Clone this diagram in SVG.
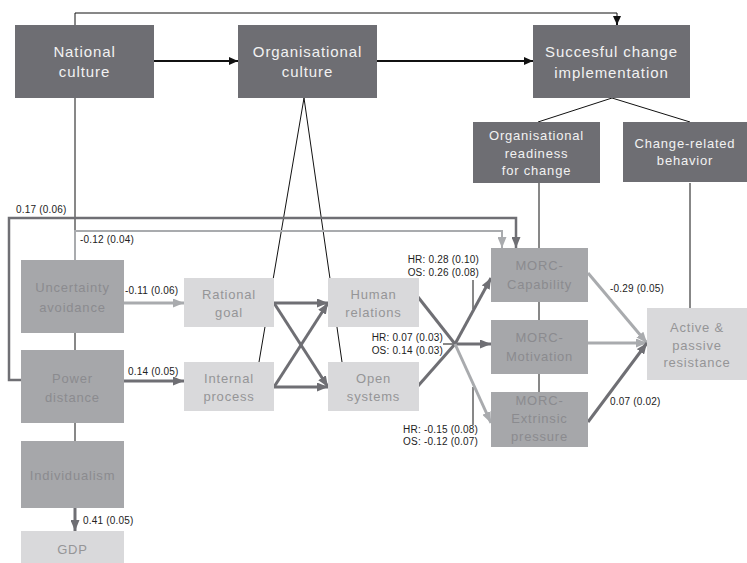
<svg xmlns="http://www.w3.org/2000/svg" width="747" height="563" viewBox="0 0 747 563">
  <style>
    .dark { fill: #6e6e73; }
    .mid { fill: #a6a7aa; }
    .light { fill: #d9d9db; }
    .t { font-family: "Liberation Sans", Arial, sans-serif; text-anchor: middle; }
    .tbig { font-size: 15px; letter-spacing: 0.9px; fill: #f2f2f2; }
    .tsm { font-size: 13px; letter-spacing: 0.8px; fill: #f2f2f2; }
    .tmid { font-size: 13px; letter-spacing: 0.8px; fill: #8b8b8f; }
    .tlight { font-size: 13px; letter-spacing: 0.8px; fill: #959597; }
    .lbl { font-family: "Liberation Sans", Arial, sans-serif; font-size: 10px; letter-spacing: 0.2px; fill: #222; }
    .thin { stroke: #111; stroke-width: 1; fill: none; }
    .blk { stroke: #111; stroke-width: 2; fill: none; marker-end: url(#ahBlack); }
    .dk { stroke: #6f6f74; stroke-width: 3; fill: none; }
    .lt { stroke: #a9abae; stroke-width: 3; fill: none; }
    .dka { marker-end: url(#ahDark); }
    .lta { marker-end: url(#ahLight); }
  </style>
  <defs>
    <marker id="ahBlack" markerUnits="userSpaceOnUse" markerWidth="9" markerHeight="8" refX="9" refY="4" orient="auto">
      <path d="M0,0 L9,4 L0,8 z" fill="#111"/>
    </marker>
    <marker id="ahDark" markerUnits="userSpaceOnUse" markerWidth="11" markerHeight="9" refX="11" refY="4.5" orient="auto">
      <path d="M0,0 L11,4.5 L0,9 z" fill="#6f6f74"/>
    </marker>
    <marker id="ahLight" markerUnits="userSpaceOnUse" markerWidth="11" markerHeight="9" refX="11" refY="4.5" orient="auto">
      <path d="M0,0 L11,4.5 L0,9 z" fill="#a9abae"/>
    </marker>
  </defs>

  <rect width="747" height="563" fill="#ffffff"/>

  <g id="connectors">
    <!-- thin black structure lines (behind the boxes) -->
    <line class="thin" x1="75" y1="13" x2="75" y2="441"/>
    <path class="thin" d="M75,13 H617 V18" />
    <line class="blk" x1="617" y1="17" x2="617" y2="25"/>
    <line class="thin" x1="304" y1="98" x2="259" y2="362"/>
    <line class="thin" x1="304" y1="98" x2="342" y2="362"/>
    <line class="thin" x1="612" y1="98" x2="538" y2="122"/>
    <line class="thin" x1="612" y1="98" x2="690" y2="122"/>
    <line class="thin" x1="539" y1="183" x2="539" y2="392"/>
    <line class="thin" x1="690" y1="183" x2="690" y2="308"/>
    <line class="thin" x1="473" y1="280" x2="473" y2="309"/>
    <line class="thin" x1="443" y1="344" x2="455" y2="344"/>
    <line class="thin" x1="473" y1="387" x2="473" y2="425"/>

    <!-- black arrows between the culture levels -->
    <line class="blk" x1="154" y1="61" x2="238" y2="61"/>
    <line class="blk" x1="377" y1="61" x2="533" y2="61"/>

    <!-- long paths to MORC-Capability -->
    <path class="dk dka" style="stroke-width:2.5" d="M21,380 H9 V218 H516 V248"/>
    <path class="lt lta" style="stroke-width:2" d="M75,260 V231 H502 V248"/>

    <!-- national culture dimensions to organisational culture -->
    <line class="lt lta" x1="124" y1="303" x2="184" y2="303"/>
    <line class="dk dka" x1="124" y1="381" x2="184" y2="381"/>

    <!-- cross links between culture types -->
    <line class="dk dka" x1="274" y1="303" x2="328" y2="303"/>
    <line class="dk dka" x1="274" y1="303" x2="328" y2="387"/>
    <line class="dk dka" x1="274" y1="387" x2="328" y2="387"/>
    <line class="dk dka" x1="274" y1="387" x2="328" y2="303"/>

    <!-- human relations / open systems to MORC -->
    <line class="dk" x1="418" y1="297" x2="455" y2="344"/>
    <line class="dk" x1="418" y1="386" x2="455" y2="344"/>
    <line class="dk dka" x1="455" y1="344" x2="491" y2="278"/>
    <line class="dk dka" x1="455" y1="344" x2="491" y2="344"/>
    <line class="lt lta" x1="455" y1="344" x2="491" y2="423"/>

    <!-- MORC to resistance -->
    <line class="lt lta" x1="588" y1="273" x2="647" y2="343"/>
    <line class="lt lta" x1="588" y1="343" x2="647" y2="343"/>
    <line class="dk dka" x1="588" y1="422" x2="647" y2="343"/>

    <!-- individualism to GDP -->
    <line class="dk dka" x1="75" y1="508" x2="75" y2="531"/>

    <!-- path coefficients -->
    <text class="lbl" x="16" y="213">0.17 (0.06)</text>
    <text class="lbl" x="80" y="243">-0.12 (0.04)</text>
    <text class="lbl" x="125" y="294">-0.11 (0.06)</text>
    <text class="lbl" x="128" y="375">0.14 (0.05)</text>
    <text class="lbl" x="479" y="263" text-anchor="end">HR: 0.28 (0.10)</text>
    <text class="lbl" x="479" y="276" text-anchor="end">OS: 0.26 (0.08)</text>
    <text class="lbl" x="443" y="341" text-anchor="end">HR: 0.07 (0.03)</text>
    <text class="lbl" x="443" y="354" text-anchor="end">OS: 0.14 (0.03)</text>
    <text class="lbl" x="478" y="433" text-anchor="end">HR: -0.15 (0.08)</text>
    <text class="lbl" x="478" y="445" text-anchor="end">OS: -0.12 (0.07)</text>
    <text class="lbl" x="610" y="292">-0.29 (0.05)</text>
    <text class="lbl" x="610" y="405">0.07 (0.02)</text>
    <text class="lbl" x="83" y="524">0.41 (0.05)</text>
  </g>

  <g id="national-culture">
    <rect class="dark" x="15" y="25" width="139" height="73"/>
    <text class="t tbig" x="84.5" y="57">National</text>
    <text class="t tbig" x="84.5" y="77">culture</text>
  </g>
  <g id="organisational-culture">
    <rect class="dark" x="238" y="25" width="139" height="73"/>
    <text class="t tbig" x="307.5" y="57">Organisational</text>
    <text class="t tbig" x="307.5" y="77">culture</text>
  </g>
  <g id="successful-change">
    <rect class="dark" x="533" y="25" width="157" height="73"/>
    <text class="t tbig" x="611.5" y="57">Succesful change</text>
    <text class="t tbig" x="611.5" y="78">implementation</text>
  </g>
  <g id="readiness">
    <rect class="dark" x="473" y="122" width="127" height="61"/>
    <text class="t tsm" x="536.5" y="140">Organisational</text>
    <text class="t tsm" x="536.5" y="158">readiness</text>
    <text class="t tsm" x="536.5" y="175">for change</text>
  </g>
  <g id="change-behavior">
    <rect class="dark" x="623" y="122" width="124" height="60"/>
    <text class="t tsm" x="685" y="148">Change-related</text>
    <text class="t tsm" x="685" y="165">behavior</text>
  </g>

  <g id="uncertainty-avoidance">
    <rect class="mid" x="21" y="260" width="103" height="73"/>
    <text class="t tmid" x="72.5" y="292">Uncertainty</text>
    <text class="t tmid" x="72.5" y="312">avoidance</text>
  </g>
  <g id="power-distance">
    <rect class="mid" x="21" y="350" width="103" height="73"/>
    <text class="t tmid" x="72.5" y="383">Power</text>
    <text class="t tmid" x="72.5" y="402">distance</text>
  </g>
  <g id="individualism">
    <rect class="mid" x="21" y="441" width="103" height="67"/>
    <text class="t tmid" x="72.5" y="480">Individualism</text>
  </g>
  <g id="gdp">
    <rect class="light" x="21" y="531" width="103" height="32"/>
    <text class="t tlight" x="72.5" y="554">GDP</text>
  </g>

  <g id="rational-goal">
    <rect class="light" x="184" y="278" width="90" height="49"/>
    <text class="t tlight" x="229" y="299">Rational</text>
    <text class="t tlight" x="229" y="317">goal</text>
  </g>
  <g id="internal-process">
    <rect class="light" x="184" y="362" width="90" height="49"/>
    <text class="t tlight" x="229" y="383">Internal</text>
    <text class="t tlight" x="229" y="401">process</text>
  </g>
  <g id="human-relations">
    <rect class="light" x="328" y="278" width="91" height="49"/>
    <text class="t tlight" x="373.5" y="299">Human</text>
    <text class="t tlight" x="373.5" y="317">relations</text>
  </g>
  <g id="open-systems">
    <rect class="light" x="328" y="362" width="91" height="49"/>
    <text class="t tlight" x="373.5" y="383">Open</text>
    <text class="t tlight" x="373.5" y="401">systems</text>
  </g>

  <g id="morc-capability">
    <rect class="mid" x="491" y="248" width="97" height="54"/>
    <text class="t tmid" x="539.5" y="270">MORC-</text>
    <text class="t tmid" x="539.5" y="289">Capability</text>
  </g>
  <g id="morc-motivation">
    <rect class="mid" x="491" y="320" width="97" height="54"/>
    <text class="t tmid" x="539.5" y="342">MORC-</text>
    <text class="t tmid" x="539.5" y="361">Motivation</text>
  </g>
  <g id="morc-extrinsic">
    <rect class="mid" x="491" y="392" width="97" height="55"/>
    <text class="t tmid" x="539.5" y="405">MORC-</text>
    <text class="t tmid" x="539.5" y="423">Extrinsic</text>
    <text class="t tmid" x="539.5" y="441">pressure</text>
  </g>
  <g id="resistance">
    <rect class="light" x="647" y="308" width="100" height="72"/>
    <text class="t tlight" x="697" y="332">Active &amp;</text>
    <text class="t tlight" x="697" y="350">passive</text>
    <text class="t tlight" x="697" y="367">resistance</text>
  </g>
</svg>
